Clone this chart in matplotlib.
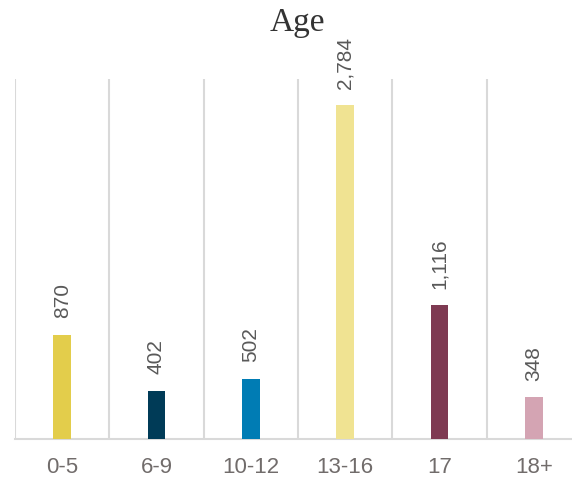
import matplotlib.pyplot as plt
from matplotlib.ticker import FixedLocator

# data umur
kategori = ["0-5", "6-9", "10-12", "13-16", "17", "18+"]
jumlah = [870, 402, 502, 2784, 1116, 348]
warna = ["#E3CD4B", "#003B57", "#007CB4", "#F0E392", "#7E3A52", "#D4A4B3"]

huruf = ["Liberation Sans", "DejaVu Sans"]

fig = plt.figure(figsize=(5.72, 4.85), dpi=100)
ax = fig.add_axes([15 / 572, 45 / 485, 566 / 572, 360 / 485])

x = range(len(kategori))
ax.bar(x, jumlah, width=0.19, color=warna, zorder=3)

# label nilai di atas batang, diputar vertikal
for i, v in enumerate(jumlah):
    ax.annotate(f"{v:,}", (i, v), xytext=(0, 12.5), textcoords="offset points",
                rotation=90, ha="center", va="bottom", fontsize=15,
                color="#595959", family=huruf)

ax.set_xlim(-0.5, 5.5)
ax.set_ylim(0, 3000)
ax.set_xticks(list(x))
ax.set_xticklabels(kategori, fontsize=16, color="#716c6b", family=huruf)
ax.tick_params(axis="x", length=0, pad=12)
ax.set_yticks([])

# garis pemisah kategori
ax.xaxis.set_minor_locator(FixedLocator([i - 0.5 for i in range(len(kategori) + 1)]))
ax.tick_params(axis="x", which="minor", length=0)
ax.grid(axis="x", which="minor", color="#D9D9D9", linewidth=1.5, zorder=0)

for s in ["top", "right", "left"]:
    ax.spines[s].set_visible(False)
ax.spines["bottom"].set_color("#D9D9D9")
ax.spines["bottom"].set_linewidth(1.5)

fig.text(297 / 572, 1 - 23 / 485, "Age", ha="center", va="center",
         fontsize=24, color="#333333", family="Liberation Serif")

plt.savefig("out.png")
